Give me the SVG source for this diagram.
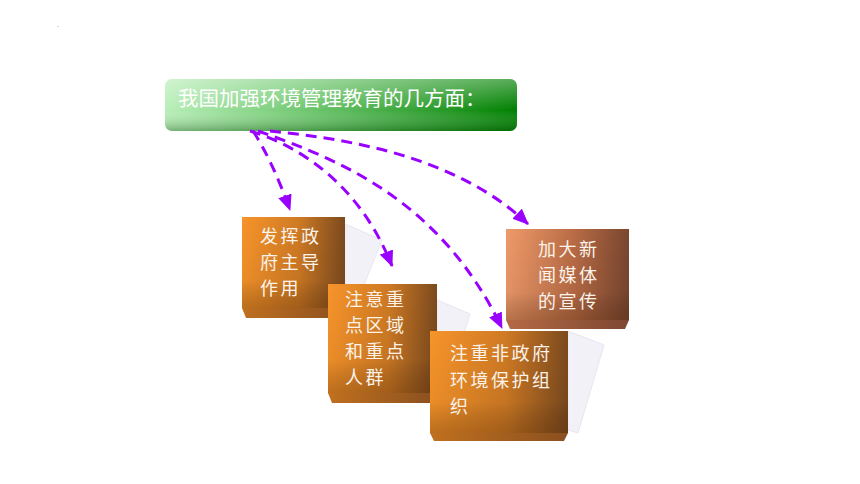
<svg xmlns="http://www.w3.org/2000/svg" width="860" height="484" viewBox="0 0 860 484">
<defs>
<style>
.t{font-family:"Noto Sans CJK SC","Noto Sans",sans-serif;font-size:18px;fill:#fbf3ea;letter-spacing:2.5px;}
.h{font-family:"Noto Sans CJK SC","Noto Sans",sans-serif;font-size:20.5px;fill:#ffffff;}
.ln{fill:none;stroke:#9900ff;stroke-width:3;stroke-dasharray:11 7;marker-end:url(#ah);}
.ref{fill:#f3f1f8;stroke:#e8e5ef;stroke-width:1;}
</style>
<marker id="ah" viewBox="0 0 16 14" refX="15" refY="7" markerWidth="16" markerHeight="14" orient="auto" markerUnits="userSpaceOnUse"><path d="M0,0 L16,7 L0,14 z" fill="#9900ff"/></marker>
<linearGradient id="gH" x1="0" y1="0" x2="1" y2="0"><stop offset="0" stop-color="#b8eeb8"/><stop offset="0.45" stop-color="#66c266"/><stop offset="1" stop-color="#008000"/></linearGradient>
<linearGradient id="gHv" x1="0" y1="0" x2="0" y2="1"><stop offset="0" stop-color="#ffffff" stop-opacity="0.35"/><stop offset="0.6" stop-color="#ffffff" stop-opacity="0"/><stop offset="1" stop-color="#004000" stop-opacity="0.35"/></linearGradient>
<linearGradient id="gO" x1="0" y1="0" x2="1" y2="0"><stop offset="0" stop-color="#f7942a"/><stop offset="0.55" stop-color="#cf7a24"/><stop offset="1" stop-color="#7c4a1e"/></linearGradient>
<linearGradient id="gB" x1="0" y1="0" x2="1" y2="0"><stop offset="0" stop-color="#ef9a6a"/><stop offset="0.55" stop-color="#b96c45"/><stop offset="1" stop-color="#7a4630"/></linearGradient>
<linearGradient id="gV" x1="0" y1="0" x2="0" y2="1"><stop offset="0" stop-color="#000" stop-opacity="0"/><stop offset="0.7" stop-color="#000" stop-opacity="0.05"/><stop offset="1" stop-color="#3a1a00" stop-opacity="0.3"/></linearGradient>
<linearGradient id="gBev" x1="0" y1="0" x2="1" y2="0"><stop offset="0" stop-color="#c0701f"/><stop offset="1" stop-color="#8a5020"/></linearGradient>
<linearGradient id="gBev2" x1="0" y1="0" x2="1" y2="0"><stop offset="0" stop-color="#b56a45"/><stop offset="1" stop-color="#7d4832"/></linearGradient>
</defs>
<rect width="860" height="484" fill="#ffffff"/>
<text x="57" y="27" style="font-family:'Liberation Sans',sans-serif;font-size:7px;fill:#666">.</text>

<g id="reflections">
<polygon class="ref" points="345,224 382,240 362,290 345,288"/>
<polygon class="ref" points="437,300 470,314 452,372 437,370"/>
<polygon class="ref" points="568,331 604,345 578,433 568,430"/>
</g>

<g id="header">
<rect x="165" y="79" width="352" height="52" rx="7" fill="url(#gH)"/>
<rect x="165" y="79" width="352" height="52" rx="7" fill="url(#gHv)"/>
<text class="h" x="178" y="106">我国加强环境管理教育的几方面：</text>
</g>

<g id="box1">
<polygon points="242,308 345,308 341,318 246,318" fill="url(#gBev)"/>
<rect x="242" y="217" width="103" height="91" fill="url(#gO)"/>
<rect x="242" y="217" width="103" height="91" fill="url(#gV)"/>
<text class="t"><tspan x="260" y="243">发挥政</tspan><tspan x="260" y="269">府主导</tspan><tspan x="260" y="295">作用</tspan></text>
</g>

<g id="box2">
<polygon points="328,393 437,393 433,403 332,403" fill="url(#gBev)"/>
<rect x="328" y="284" width="109" height="109" fill="url(#gO)"/>
<rect x="328" y="284" width="109" height="109" fill="url(#gV)"/>
<text class="t"><tspan x="345" y="306">注意重</tspan><tspan x="345" y="332">点区域</tspan><tspan x="345" y="358">和重点</tspan><tspan x="345" y="384">人群</tspan></text>
</g>

<g id="box4">
<polygon points="506,320 629,320 625,329 510,329" fill="url(#gBev2)"/>
<rect x="506" y="229" width="123" height="91" fill="url(#gB)"/>
<rect x="506" y="229" width="123" height="91" fill="url(#gV)"/>
<text class="t"><tspan x="538" y="256">加大新</tspan><tspan x="538" y="282">闻媒体</tspan><tspan x="538" y="308">的宣传</tspan></text>
</g>

<g id="box3">
<polygon points="430,433 568,433 564,441 434,441" fill="url(#gBev)"/>
<rect x="430" y="331" width="138" height="102" fill="url(#gO)"/>
<rect x="430" y="331" width="138" height="102" fill="url(#gV)"/>
<text class="t"><tspan x="450" y="360">注重非政府</tspan><tspan x="450" y="387">环境保护组</tspan><tspan x="450" y="413">织</tspan></text>
</g>

<g id="connectors">
<path class="ln" d="M253 131 Q272 160 290 210"/>
<path class="ln" d="M250 131 C300 146 360 185 392 266"/>
<path class="ln" d="M258 131 C340 160 440 200 502 328"/>
<path class="ln" d="M270 131 C360 140 460 160 528 224"/>
</g>
</svg>
